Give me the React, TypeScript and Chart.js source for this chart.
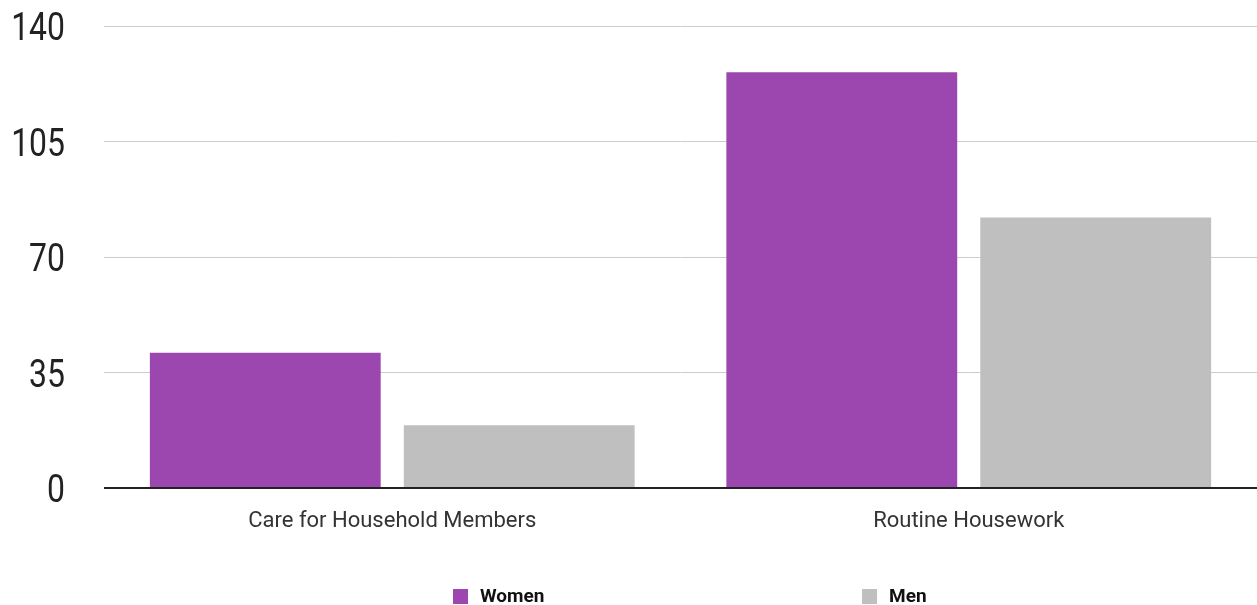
import React, { useEffect, useRef } from "react";
import { Chart, registerables } from "chart.js";

Chart.register(...registerables);

const categories = ["Care for Household Members", "Routine Housework"];
const women = [41, 126];
const men = [19, 82];
const seriesNames = ["Women", "Men"];
const yTicks = [0, 35, 70, 105, 140];

const PURPLE = "#9c47af";
const GRAY = "#bfbfbf";

const legendPlugin = {
  id: "customLegend",
  afterDraw(chart: any) {
    const ctx = chart.ctx;
    const w = chart.width;
    const xs = [w * 0.3604, w * 0.6858];
    ctx.save();
    chart.data.datasets.forEach((ds: any, i: number) => {
      const x = xs[i];
      const y = 589;
      ctx.fillStyle = ds.backgroundColor;
      ctx.fillRect(x, y, 15, 15);
      ctx.fillStyle = "#111";
      ctx.font = "bold 19px Roboto";
      ctx.textBaseline = "middle";
      ctx.textAlign = "left";
      ctx.fillText(ds.label, x + 27, y + 8);
    });
    ctx.restore();
  },
};

// condensed y-axis tick labels
const yLabelPlugin = {
  id: "condensedYLabels",
  afterDraw(chart: any) {
    const ctx = chart.ctx;
    const scale = chart.scales.y;
    const right = chart.chartArea.left - 39;
    ctx.save();
    ctx.fillStyle = "#222";
    ctx.font = "38px Roboto";
    ctx.textAlign = "right";
    ctx.textBaseline = "alphabetic";
    scale.ticks.forEach((t: any) => {
      const y = scale.getPixelForValue(t.value);
      ctx.save();
      ctx.translate(right, y + 14);
      ctx.scale(0.84, 1);
      ctx.fillText(String(t.value), 0, 0);
      ctx.restore();
    });
    ctx.restore();
  },
};

export default function App() {
  const ref = useRef<HTMLCanvasElement>(null);
  useEffect(() => {
    document.body.style.margin = "0";
    const chart = new Chart(ref.current!, {
      type: "bar",
      data: {
        labels: categories,
        datasets: [
          { label: seriesNames[0], data: women, backgroundColor: PURPLE },
          { label: seriesNames[1], data: men, backgroundColor: GRAY },
        ],
      },
      plugins: [legendPlugin, yLabelPlugin],
      options: {
        animation: false,
        responsive: false,
        maintainAspectRatio: false,
        layout: { padding: { top: 26, right: 0, bottom: 0, left: 0 } },
        datasets: { bar: { categoryPercentage: 0.881, barPercentage: 0.909 } },
        plugins: { legend: { display: false }, tooltip: { enabled: false } },
        scales: {
          x: {
            grid: { display: false, drawTicks: false },
            border: { display: false },
            ticks: { padding: 20, color: "#333", font: { family: "Roboto", size: 22 } },
            afterFit(scale: any) {
              scale.height = 117;
              scale.paddingLeft = 0;
              scale.paddingRight = 0;
            },
          },
          y: {
            min: 0,
            max: 140,
            afterBuildTicks(scale: any) { scale.ticks = yTicks.map((v) => ({ value: v })); },
            grid: {
              drawTicks: false,
              color: (c: any) => (c.tick && c.tick.value === 0 ? "#222" : "#cccccc"),
              lineWidth: (c: any) => (c.tick && c.tick.value === 0 ? 2 : 1),
            },
            border: { display: false },
            ticks: { display: false },
            afterFit(scale: any) {
              scale.width = 104;
              scale.paddingTop = 0;
              scale.paddingBottom = 0;
            },
          },
        },
      },
    });
    return () => chart.destroy();
  }, []);
  return <canvas ref={ref} width={1257} height={605} style={{ display: "block" }} />;
}
